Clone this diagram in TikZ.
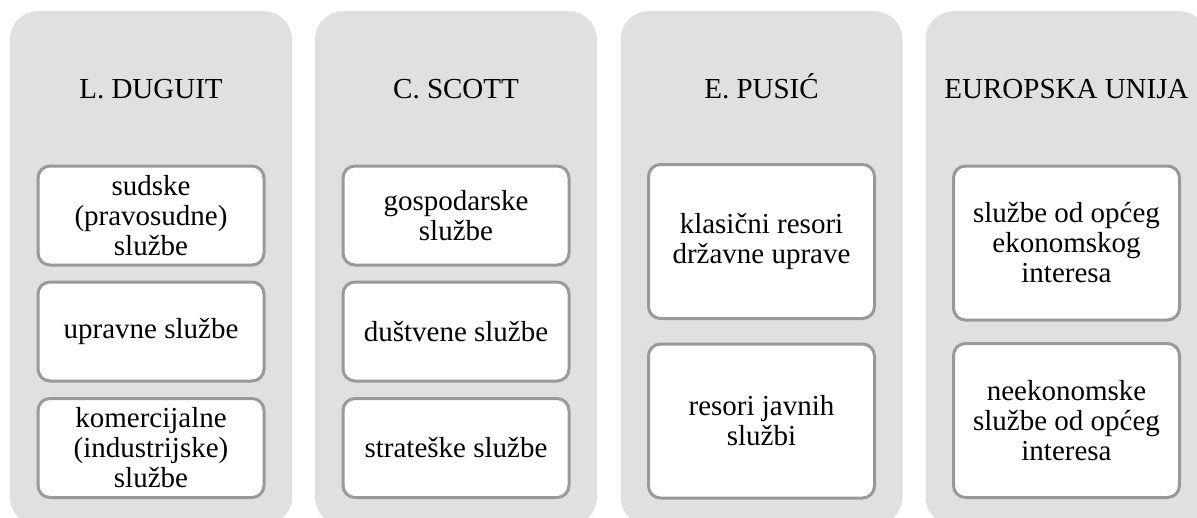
\documentclass[tikz,border=0pt]{standalone}
\usepackage{fontspec}
\setmainfont{Liberation Serif}
\definecolor{colgrey}{HTML}{E0E0E0}
\definecolor{boxedge}{HTML}{999999}
\tikzset{
  column/.style={fill=colgrey, draw=none, rounded corners=28pt, minimum width=282pt, minimum height=514pt, inner sep=0pt, anchor=north},
  header/.style={anchor=base, inner sep=0pt, font=\fontsize{29}{30}\selectfont},
  item/.style={fill=white, draw=boxedge, line width=3pt, rounded corners=12pt, minimum width=226pt, inner sep=0pt, align=center, font=\fontsize{29}{30}\selectfont},
  short/.style={item, minimum height=99pt},
  tall/.style={item, minimum height=154pt}
}
\begin{document}
\begin{tikzpicture}[x=1pt,y=-1pt]
\useasboundingbox (0,0) rectangle (1197,517);
\clip (0,0) rectangle (1197,517);
% columns
\node[column] (c1) at (151,11) {};
\node[column] (c2) at (456,11) {};
\node[column] (c3) at (761.5,11) {};
\node[column] (c4) at (1066.5,11) {};
% headers
\node[header] (h1) at (151,98) {L. DUGUIT};
\node[header] (h2) at (456,98) {C. SCOTT};
\node[header] (h3) at (761.5,98) {E. PUSIĆ};
\node[header] (h4) at (1066.5,98) {EUROPSKA UNIJA};
% column 1
\node[short] (a1) at (151,215.5) {sudske\\(pravosudne)\\službe};
\node[short] (a2) at (151,331.5) {upravne službe};
\node[short] (a3) at (151,448) {komercijalne\\(industrijske)\\službe};
% column 2
\node[short] (b1) at (456,215.5) {gospodarske\\službe};
\node[short] (b2) at (456,331.5) {duštvene službe};
\node[short] (b3) at (456,448) {strateške službe};
% column 3
\node[tall] (p1) at (761.5,241.5) {klasični resori\\državne uprave};
\node[tall] (p2) at (761.5,421) {resori javnih\\službi};
% column 4
\node[tall] (e1) at (1066.5,243) {službe od općeg\\ekonomskog\\interesa};
\node[tall] (e2) at (1066.5,420.5) {neekonomske\\službe od općeg\\interesa};
\end{tikzpicture}
\end{document}
